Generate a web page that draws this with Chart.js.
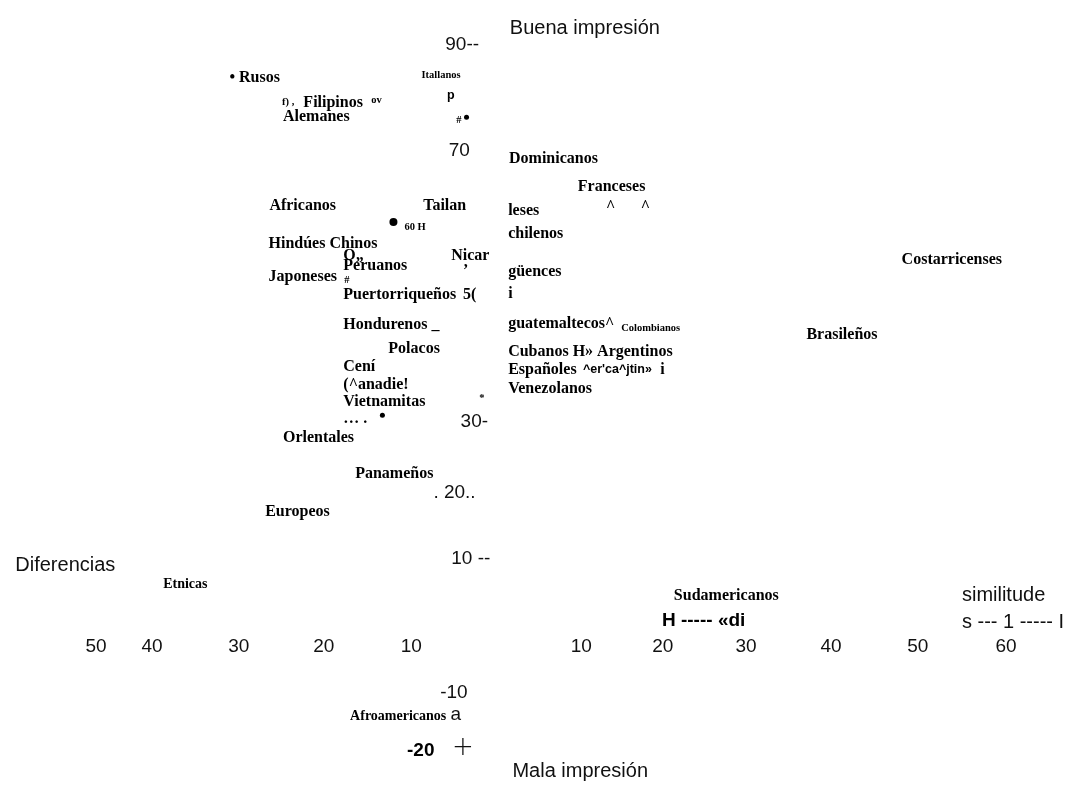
<!DOCTYPE html>
<html>
<head>
    <title>Mapa perceptual</title>
    <script src="https://cdn.jsdelivr.net/npm/chart.js"></script>
    <style>
        body { margin: 0; background: #fff; }
        canvas { display: block; }
    </style>
</head>
<body>
    <canvas id="mapChart" width="1086" height="785"></canvas>

    <script>
        // Group labels (bold serif), placed in map units: x = difference(-)/similarity(+), y = impression
        const groupNames = ['• Rusos', 'Filipinos', 'Alemanes', 'Dominicanos', 'Franceses', 'Africanos', 'Tailan', 'leses',
            'chilenos', 'Hindúes Chinos', 'O„', 'Nicar', 'Peruanos', 'Japoneses', 'güences', 'i', 'Puertorriqueños', '5(',
            'Hondurenos _', 'guatemaltecos^', 'Polacos', 'Cubanos H» Argentinos', 'Cení', 'Españoles', 'i', '(^anadie!',
            'Venezolanos', 'Vietnamitas', '… .', 'Orlentales', 'Panameños', 'Europeos', 'Costarricenses',
            'Brasileños', 'Sudamericanos', '^', '^', '’'];
        const groupX = [-31.5, -22.8, -25.2, 1.4, 9.5, -26.8, -8.7, 1.3,
            1.3, -26.9, -18.1, -5.4, -18.1, -26.9, 1.3, 1.3, -18.1, -4.0,
            -18.1, 1.3, -12.8, 1.3, -18.1, 1.3, 19.2, -18.1,
            1.3, -18.1, -18.1, -25.2, -16.7, -27.3, 47.6,
            36.4, 20.8, 12.8, 16.9, -4.0];
        const groupY = [79.3, 75.7, 73.6, 67.5, 63.5, 60.7, 60.7, 60.1,
            56.7, 55.2, 53.5, 53.5, 52.0, 50.4, 51.2, 48.0, 47.8, 47.8,
            43.5, 43.6, 40.0, 39.6, 37.4, 37.0, 37.0, 34.8,
            34.3, 32.3, 29.9, 27.1, 21.9, 16.4, 52.9,
            42.0, 4.2, 60.6, 60.6, 51.4];

        // Slightly smaller serif labels
        const minorNames = ['Etnicas', 'Afroamericanos'];
        const minorX = [-39.3, -17.3];
        const minorY = [5.9, -13.3];

        // Small marks scattered in the scan
        const smallNotes = ['Itallanos', 'f) ,', 'ov', '#', '60 H', '#', 'Colombianos', '*'];
        const smallX = [-8.9, -25.3, -14.8, -4.8, -10.9, -18.0, 14.6, -2.1];
        const smallY = [79.7, 75.7, 76.1, 73.2, 57.7, 50.0, 43.0, 32.9];

        // Dots
        const dotX = [-3.6, -12.2, -13.5];
        const dotY = [73.6, 58.4, 30.4];
        const dotSize = [2.5, 4, 2.5];

        // Axis titles
        const titleTexts = ['Buena impresión', 'Diferencias', 'similitude', 's --- 1 ----- I', 'Mala impresión'];
        const titleX = [1.5, -56.7, 54.7, 54.7, 1.8];
        const titleY = [86.4, 8.6, 4.3, 0.4, -21.3];

        // Vertical axis ticks as printed
        const yTickLabels = ['90--', '70', '30-', '. 20..', '10 --', '-10', 'a'];
        const yTickX = [-6.1, -5.7, -4.3, -7.5, -5.4, -6.7, -5.5];
        const yTickY = [84.1, 68.8, 29.4, 19.1, 9.6, -9.9, -13.0];

        // Horizontal axis ticks as printed
        const xTickLabels = ['50', '40', '30', '20', '10', '10', '20', '30', '40', '50', '60'];
        const xTickPos = [-47.2, -40.6, -30.4, -20.4, -10.1, 9.9, 19.5, 29.3, 39.3, 49.5, 59.9];
        const xTickY = -3.2;

        // Bold sans fragments
        const boldTexts = ['-20', 'H ----- «di'];
        const boldX = [-10.6, 19.4];
        const boldY = [-18.3, 0.6];

        const tinyBoldTexts = ['^er\'ca^jtin»', 'p'];
        const tinyBoldX = [10.1, -5.9];
        const tinyBoldY = [37.0, 76.8];

        const pts = (xs, ys, texts) => xs.map((x, i) => ({ x: x, y: ys[i], label: texts ? texts[i] : '' }));

        const textPlugin = {
            id: 'textLabels',
            afterDatasetsDraw(chart) {
                const ctx = chart.ctx;
                chart.data.datasets.forEach((ds, i) => {
                    if (!ds.textFont) return;
                    const meta = chart.getDatasetMeta(i);
                    ctx.save();
                    ctx.font = ds.textFont;
                    ctx.fillStyle = ds.textColor || '#000';
                    ctx.textAlign = ds.textAlign || 'left';
                    ctx.textBaseline = 'middle';
                    meta.data.forEach((el, j) => {
                        ctx.fillText(ds.data[j].label, el.x, el.y);
                    });
                    ctx.restore();
                });
            }
        };

        const serif = '"Liberation Serif", serif';
        const sans = '"Liberation Sans", Arial, sans-serif';

        new Chart(document.getElementById('mapChart').getContext('2d'), {
            type: 'scatter',
            data: {
                datasets: [
                    { data: pts(groupX, groupY, groupNames), pointRadius: 0, textFont: 'bold 16px ' + serif },
                    { data: pts(minorX, minorY, minorNames), pointRadius: 0, textFont: 'bold 14px ' + serif },
                    { data: pts(smallX, smallY, smallNotes), pointRadius: 0, textFont: 'bold 10.5px ' + serif },
                    { data: pts(titleX, titleY, titleTexts), pointRadius: 0, textFont: '20px ' + sans, textColor: '#111' },
                    { data: pts(yTickX, yTickY, yTickLabels), pointRadius: 0, textFont: '19px ' + sans, textColor: '#111' },
                    { data: pts(xTickPos, xTickPos.map(() => xTickY), xTickLabels), pointRadius: 0, textFont: '19px ' + sans, textColor: '#111', textAlign: 'center' },
                    { data: pts(boldX, boldY, boldTexts), pointRadius: 0, textFont: 'bold 19px ' + sans, textColor: '#000' },
                    { data: pts(tinyBoldX, tinyBoldY, tinyBoldTexts), pointRadius: 0, textFont: 'bold 12.5px ' + sans, textColor: '#000' },
                    { data: pts([-5.3], [-17.9], ['+']), pointRadius: 0, textFont: '200 26px "DejaVu Sans", ' + sans, textColor: '#111' },
                    { data: pts(dotX, dotY), pointRadius: dotSize, backgroundColor: '#000', borderWidth: 0 }
                ]
            },
            options: {
                responsive: false,
                animation: false,
                layout: { padding: 0, autoPadding: false },
                plugins: { legend: { display: false }, tooltip: { enabled: false } },
                scales: {
                    x: { type: 'linear', min: -58.5, max: 69.3, display: false },
                    y: { type: 'linear', min: -23.2, max: 90.6, display: false }
                }
            },
            plugins: [textPlugin]
        });
    </script>
</body>
</html>
